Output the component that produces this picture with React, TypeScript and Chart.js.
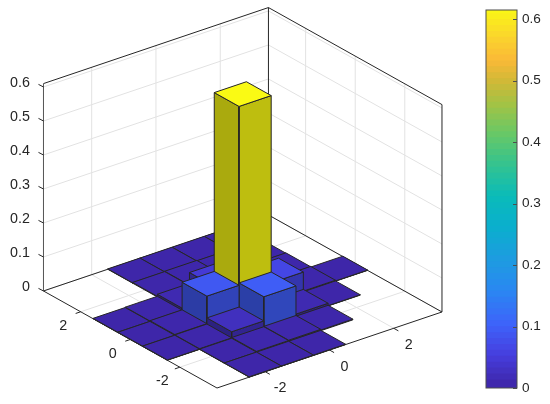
import React, { useEffect, useRef } from "react";
import { Chart, registerables } from "chart.js";

Chart.register(...registerables);

// Bar heights: one list per x position, indexed by y position (null = no bar)
const X_POSITIONS = [-3, -2, -1, 0, 1, 2, 3];
const Y_POSITIONS = [-3, -2, -1, 0, 1, 2, 3];
const HEIGHTS_X_M3 = [null, null, 0.001, 0.001, 0.001, null, null];
const HEIGHTS_X_M2 = [0.001, 0.001, 0.002, 0.003, 0.002, null, null];
const HEIGHTS_X_M1 = [0.001, 0.003, 0.02, 0.084, 0.008, 0.002, 0.001];
const HEIGHTS_X_0 = [0.001, 0.004, 0.091, 0.61, 0.04, 0.003, 0.001];
const HEIGHTS_X_1 = [null, 0.002, 0.008, 0.059, 0.006, 0.002, 0.001];
const HEIGHTS_X_2 = [null, null, 0.001, 0.003, 0.002, 0.001, 0.001];
const HEIGHTS_X_3 = [null, null, null, 0.001, null, null, null];
const HEIGHTS = [HEIGHTS_X_M3, HEIGHTS_X_M2, HEIGHTS_X_M1, HEIGHTS_X_0, HEIGHTS_X_1, HEIGHTS_X_2, HEIGHTS_X_3];

const X_TICKS = [-2, 0, 2];
const Y_TICKS = [-2, 0, 2];
const Z_TICKS = [0, 0.1, 0.2, 0.3, 0.4, 0.5, 0.6];
const COLORBAR_TICKS = [0, 0.1, 0.2, 0.3, 0.4, 0.5, 0.6];
const COLORBAR_MAX = 0.615;
const COLORBAR_LEVELS = 64;

const LIMIT = 3.5;
const Z_TOP = 0.61;

// parula-like colour map
const MAP_STOPS: [number, number, number, number][] = [
  [0.0, 62, 38, 168],
  [0.08, 70, 62, 222],
  [0.16, 62, 98, 250],
  [0.25, 42, 135, 242],
  [0.33, 30, 155, 225],
  [0.42, 10, 175, 205],
  [0.5, 10, 187, 185],
  [0.58, 50, 195, 145],
  [0.66, 100, 200, 105],
  [0.74, 160, 195, 70],
  [0.8, 205, 185, 55],
  [0.86, 250, 185, 55],
  [0.92, 250, 212, 45],
  [1.0, 250, 250, 20],
];

function mapColor(t: number, factor = 1) {
  const c = Math.max(0, Math.min(1, t));
  let i = 0;
  while (i < MAP_STOPS.length - 2 && c > MAP_STOPS[i + 1][0]) i++;
  const a = MAP_STOPS[i];
  const b = MAP_STOPS[i + 1];
  const f = (c - a[0]) / (b[0] - a[0]);
  const ch = (k: number) => Math.round((a[k] + (b[k] - a[k]) * f) * factor);
  return `rgb(${ch(1)},${ch(2)},${ch(3)})`;
}

// view: orthographic projection, in canvas units per data unit
const ORIGIN = { u: 217, v: 388 };
const X_DIR = { u: 32.14, v: -10.86 };
const Y_DIR = { u: -24.79, v: -13.86 };
const Z_DIR = -340;

function project(x: number, y: number, z: number) {
  const a = x + LIMIT;
  const b = y + LIMIT;
  return {
    x: ORIGIN.u + a * X_DIR.u + b * Y_DIR.u,
    y: ORIGIN.v + a * X_DIR.v + b * Y_DIR.v + z * Z_DIR,
  };
}

const EDGE = "#262626";
const GRID = "#e2e2e2";
const TEXT = "#262626";
const FONT = "Liberation Sans";

function lineSet(points: { x: number; y: number }[], color: string, width: number) {
  return {
    data: points,
    showLine: true,
    fill: false,
    borderColor: color,
    borderWidth: width,
    pointRadius: 0,
    tension: 0,
    clip: false as const,
  };
}

function faceSet(points: { x: number; y: number }[], fillColor: string) {
  return {
    data: [...points, points[0]],
    showLine: true,
    fill: "shape",
    backgroundColor: fillColor,
    borderColor: EDGE,
    borderWidth: 1,
    pointRadius: 0,
    tension: 0,
    clip: false as const,
  };
}

function buildDatasets() {
  const back: any[] = [];
  const L = LIMIT;
  // grid lines
  for (const x of X_TICKS) {
    back.push(lineSet([project(x, L, 0), project(x, L, Z_TOP)], GRID, 1));
    back.push(lineSet([project(x, -L, 0), project(x, L, 0)], GRID, 1));
  }
  for (const y of Y_TICKS) {
    back.push(lineSet([project(L, y, 0), project(L, y, Z_TOP)], GRID, 1));
    back.push(lineSet([project(-L, y, 0), project(L, y, 0)], GRID, 1));
  }
  for (const z of Z_TICKS) {
    back.push(lineSet([project(-L, L, z), project(L, L, z), project(L, -L, z)], GRID, 1));
  }
  // box
  back.push(lineSet([project(-L, L, 0), project(L, L, 0), project(L, -L, 0)], EDGE, 1));
  back.push(lineSet([project(-L, L, Z_TOP), project(L, L, Z_TOP), project(L, -L, Z_TOP)], EDGE, 1));
  back.push(lineSet([project(L, L, 0), project(L, L, Z_TOP)], EDGE, 1));
  back.push(lineSet([project(L, -L, 0), project(L, -L, Z_TOP)], EDGE, 1));
  back.push(lineSet([project(-L, L, 0), project(-L, L, Z_TOP)], "#555555", 1));
  back.push(lineSet([project(-L, L, 0), project(-L, -L, 0), project(L, -L, 0)], EDGE, 1));
  // ticks
  for (const z of Z_TICKS) {
    const p = project(-L, L, z);
    back.push(lineSet([p, { x: p.x - 5, y: p.y - 2.6 }], EDGE, 1));
  }
  for (const x of X_TICKS) {
    const p = project(x, -L, 0);
    back.push(lineSet([p, { x: p.x + 4.6, y: p.y + 2.6 }], EDGE, 1));
  }
  for (const y of Y_TICKS) {
    const p = project(-L, y, 0);
    back.push(lineSet([p, { x: p.x - 5, y: p.y + 1.7 }], EDGE, 1));
  }
  // bars, far to near
  const bars: any[] = [];
  for (let i = X_POSITIONS.length - 1; i >= 0; i--) {
    for (let j = Y_POSITIONS.length - 1; j >= 0; j--) {
      const h = HEIGHTS[i][j];
      if (h === null) continue;
      const x0 = X_POSITIONS[i] - 0.5;
      const x1 = X_POSITIONS[i] + 0.5;
      const y0 = Y_POSITIONS[j] - 0.5;
      const y1 = Y_POSITIONS[j] + 0.5;
      const t = h / Z_TOP;
      bars.push(faceSet([project(x0, y0, 0), project(x0, y1, 0), project(x0, y1, h), project(x0, y0, h)], mapColor(t, 0.68)));
      bars.push(faceSet([project(x0, y0, 0), project(x1, y0, 0), project(x1, y0, h), project(x0, y0, h)], mapColor(t, 0.76)));
      bars.push(faceSet([project(x0, y0, h), project(x1, y0, h), project(x1, y1, h), project(x0, y1, h)], mapColor(t)));
    }
  }
  // Chart.js paints the first dataset last
  return [...back, ...bars].reverse();
}

const axisText = {
  id: "axisText",
  afterDraw(chart: any) {
    const { ctx } = chart;
    ctx.save();
    ctx.fillStyle = TEXT;
    ctx.font = `14.3px "${FONT}"`;
    ctx.textBaseline = "middle";
    ctx.textAlign = "right";
    for (const z of Z_TICKS) {
      const p = project(-LIMIT, LIMIT, z);
      ctx.fillText(String(z), p.x - 13.5, p.y - 3.5);
    }
    ctx.textAlign = "center";
    for (const y of Y_TICKS) {
      const p = project(-LIMIT, y, 0);
      ctx.fillText(String(y), p.x - 17.5, p.y + 14.2);
    }
    for (const x of X_TICKS) {
      const p = project(x, -LIMIT, 0);
      ctx.fillText(String(x), p.x + 15, p.y + 16.7);
    }
    ctx.restore();
  },
};

const colorbarFrame = {
  id: "colorbarFrame",
  afterDatasetsDraw(chart: any) {
    const { ctx, chartArea: a, scales } = chart;
    ctx.save();
    ctx.strokeStyle = "#4d4d4d";
    ctx.lineWidth = 1;
    ctx.strokeRect(a.left, a.top, a.right - a.left, a.bottom - a.top);
    for (const v of COLORBAR_TICKS) {
      const py = Math.round(scales.y.getPixelForValue(v)) + 0.5;
      ctx.beginPath();
      ctx.moveTo(a.right - 4, py);
      ctx.lineTo(a.right, py);
      ctx.stroke();
    }
    ctx.restore();
  },
};

export default function App() {
  const mainRef = useRef<HTMLCanvasElement>(null);
  const barRef = useRef<HTMLCanvasElement>(null);

  useEffect(() => {
    document.body.style.margin = "0";
    document.body.style.background = "#fff";
    const main = new Chart(mainRef.current!, {
      type: "scatter",
      data: { datasets: buildDatasets() },
      plugins: [axisText],
      options: {
        animation: false,
        responsive: false,
        layout: { padding: 0 },
        plugins: { legend: { display: false }, tooltip: { enabled: false } },
        scales: {
          x: { type: "linear", display: false, min: 0, max: 470 },
          y: { type: "linear", display: false, min: 0, max: 404, reverse: true },
        },
      },
    } as any);

    const levels = Array.from({ length: COLORBAR_LEVELS }, (_, i) => i);
    const step = COLORBAR_MAX / COLORBAR_LEVELS;
    const colorbar = new Chart(barRef.current!, {
      type: "bar",
      data: {
        labels: ["level"],
        // each level runs slightly under the next one; lower levels paint last
        datasets: levels.map((i) => ({
          data: [[i * step, Math.min(COLORBAR_MAX, (i + 1.4) * step)]],
          backgroundColor: mapColor((i + 0.5) / COLORBAR_LEVELS),
          borderWidth: 0,
          barPercentage: 1,
          categoryPercentage: 1,
          grouped: false,
        })),
      },
      plugins: [colorbarFrame],
      options: {
        animation: false,
        responsive: false,
        layout: { padding: { left: 16, top: 10, bottom: 16, right: 0 } },
        plugins: { legend: { display: false }, tooltip: { enabled: false } },
        scales: {
          x: { display: false },
          y: {
            position: "right",
            min: 0,
            max: COLORBAR_MAX,
            grid: { display: false, drawTicks: false },
            border: { display: false },
            afterBuildTicks: (scale: any) => {
              scale.ticks = COLORBAR_TICKS.map((value) => ({ value }));
            },
            afterFit: (scale: any) => {
              scale.width = 33;
              scale.paddingTop = 0;
              scale.paddingBottom = 0;
            },
            ticks: {
              padding: 5,
              color: TEXT,
              font: { family: FONT, size: 13.6 },
              callback: (v: any) => String(v),
            },
          },
        },
      },
    } as any);

    return () => {
      main.destroy();
      colorbar.destroy();
    };
  }, []);

  return (
    <div style={{ position: "relative", width: 550, height: 404 }}>
      <canvas ref={mainRef} width={470} height={404} style={{ position: "absolute", left: 0, top: 0 }} />
      <canvas ref={barRef} width={80} height={404} style={{ position: "absolute", left: 470, top: 0 }} />
    </div>
  );
}
